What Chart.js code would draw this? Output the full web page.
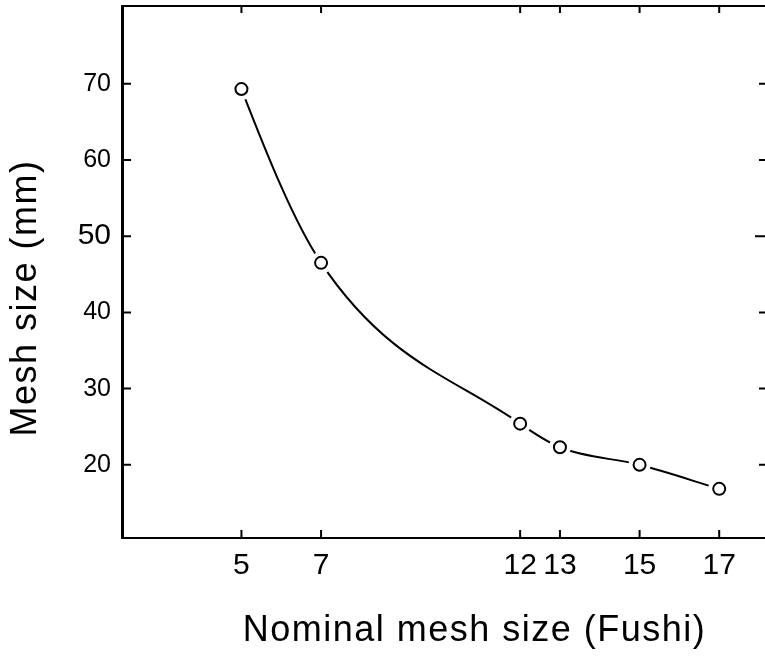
<!DOCTYPE html>
<html>
<head>
<meta charset="utf-8">
<script src="https://cdn.jsdelivr.net/npm/chart.js@4.4.0/dist/chart.umd.min.js"></script>
<style>
  html, body { margin: 0; padding: 0; background: #fff; }
  #wrap { width: 765px; height: 656px; }
</style>
</head>
<body>
<div id="wrap"><canvas id="chart" width="765" height="656"></canvas></div>
<script>
// Nominal mesh size (Fushi) against measured mesh size in mm
const fushi = [5, 7, 12, 13, 15, 17];
const meshMM = [69.3, 46.5, 25.4, 22.3, 20.0, 16.85];

const xTicks = [5, 7, 12, 13, 15, 17];
const yTicks = [20, 30, 40, 50, 60, 70];
const xTitle = 'Nominal mesh size (Fushi)';
const yTitle = 'Mesh size (mm)';

const FONT = "'Liberation Sans', Arial, Helvetica, sans-serif";
const points = fushi.map((f, i) => ({ x: f, y: meshMM[i] }));

// inward ticks on all four sides + the top frame line
const frame = {
    id: 'frame',
    beforeDatasetsDraw(chart) {
        const { ctx, chartArea: a, scales: { x, y } } = chart;
        ctx.save();
        ctx.strokeStyle = '#000';
        ctx.lineWidth = 2;
        ctx.beginPath();
        ctx.moveTo(a.left, a.top);
        ctx.lineTo(a.right, a.top);
        xTicks.forEach(v => {
            const px = x.getPixelForValue(v);
            ctx.moveTo(px, a.bottom);
            ctx.lineTo(px, a.bottom - 8);
            ctx.moveTo(px, a.top);
            ctx.lineTo(px, a.top + 7);
        });
        yTicks.forEach(v => {
            const py = y.getPixelForValue(v);
            ctx.moveTo(a.left, py);
            ctx.lineTo(a.left + 9, py);
            ctx.moveTo(a.right, py);
            ctx.lineTo(a.right - (v === 50 ? 10 : 6), py);
        });
        ctx.stroke();
        ctx.restore();
    }
};

// monotone spline starts along the first chord, which gives a small S-bend;
// take the start tangent from a parabola through the first three points instead
const startTangent = {
    id: 'startTangent',
    beforeDatasetsDraw(chart) {
        const meta = chart.getDatasetMeta(0);
        const line = meta.dataset;
        const p = meta.data;
        if (!line || p.length < 3) return;
        line.updateControlPoints(chart.chartArea, 'x');
        const [a, b, c] = p;
        const s1 = (b.y - a.y) / (b.x - a.x);
        const s2 = (c.y - b.y) / (c.x - b.x);
        const m0 = s1 - (s2 - s1) / (c.x - a.x) * (b.x - a.x);
        const dx = (b.x - a.x) / 3;
        a.cp2x = a.x + dx;
        a.cp2y = a.y + m0 * dx;
    }
};

// the axis titles are letter-spaced and sit a bit off-centre in the original
const titleStyle = {
    id: 'titleStyle',
    afterLayout(chart) {
        [['x', 31, 0], ['y', 0, 26]].forEach(([id, dx, dy]) => {
            const s = chart.scales[id];
            const orig = Object.getPrototypeOf(s).drawTitle;
            s.drawTitle = function () {
                const ctx = this.ctx;
                ctx.save();
                ctx.letterSpacing = '1.5px';
                ctx.translate(dx, dy);
                orig.call(this);
                ctx.restore();
            };
        });
    }
};

function noPad(s) {
    s.paddingTop = 0;
    s.paddingBottom = 0;
    s.paddingLeft = 0;
    s.paddingRight = 0;
}

new Chart(document.getElementById('chart'), {
    type: 'line',
    data: {
        datasets: [
            {
                data: points,
                borderColor: '#000',
                borderWidth: 2,
                pointRadius: 0,
                cubicInterpolationMode: 'monotone',
                fill: false,
                order: 3
            },
            {
                // white halo so the curve stops short of each circle
                data: points,
                showLine: false,
                pointRadius: 11,
                pointBorderWidth: 0,
                pointBackgroundColor: '#fff',
                pointBorderColor: '#fff',
                order: 2
            },
            {
                data: points,
                showLine: false,
                pointRadius: 6,
                pointBorderWidth: 2,
                pointBorderColor: '#000',
                pointBackgroundColor: '#fff',
                order: 1
            }
        ]
    },
    options: {
        responsive: false,
        animation: false,
        devicePixelRatio: 1,
        layout: { autoPadding: false, padding: { top: 6, right: 0, left: 0, bottom: 0 } },
        plugins: {
            legend: { display: false },
            tooltip: { enabled: false }
        },
        scales: {
            x: {
                type: 'linear',
                min: 2,
                max: 18.15,
                afterBuildTicks: s => { s.ticks = xTicks.map(v => ({ value: v })); },
                afterFit: s => { s.height = 118; noPad(s); },
                grid: { display: false, drawTicks: false },
                border: { display: true, color: '#000', width: 2 },
                ticks: {
                    color: '#000',
                    padding: 10,
                    maxRotation: 0,
                    autoSkip: false,
                    font: { family: FONT, size: 30 }
                },
                title: {
                    display: true,
                    text: xTitle,
                    color: '#000',
                    font: { family: FONT, size: 36 },
                    padding: { top: 0, bottom: 3 }
                }
            },
            y: {
                min: 10.4,
                max: 80.2,
                afterBuildTicks: s => { s.ticks = yTicks.map(v => ({ value: v })); },
                afterFit: s => { s.width = 122; noPad(s); },
                grid: { display: false, drawTicks: false },
                border: { display: true, color: '#000', width: 3 },
                ticks: {
                    color: '#000',
                    padding: 11,
                    autoSkip: false,
                    font: c => ({ family: FONT, size: c.tick && c.tick.value === 50 ? 30 : 25 })
                },
                title: {
                    display: true,
                    text: yTitle,
                    color: '#000',
                    font: { family: FONT, size: 36 },
                    padding: { top: 4, bottom: 0 }
                }
            }
        }
    },
    plugins: [frame, startTangent, titleStyle]
});
</script>
</body>
</html>
